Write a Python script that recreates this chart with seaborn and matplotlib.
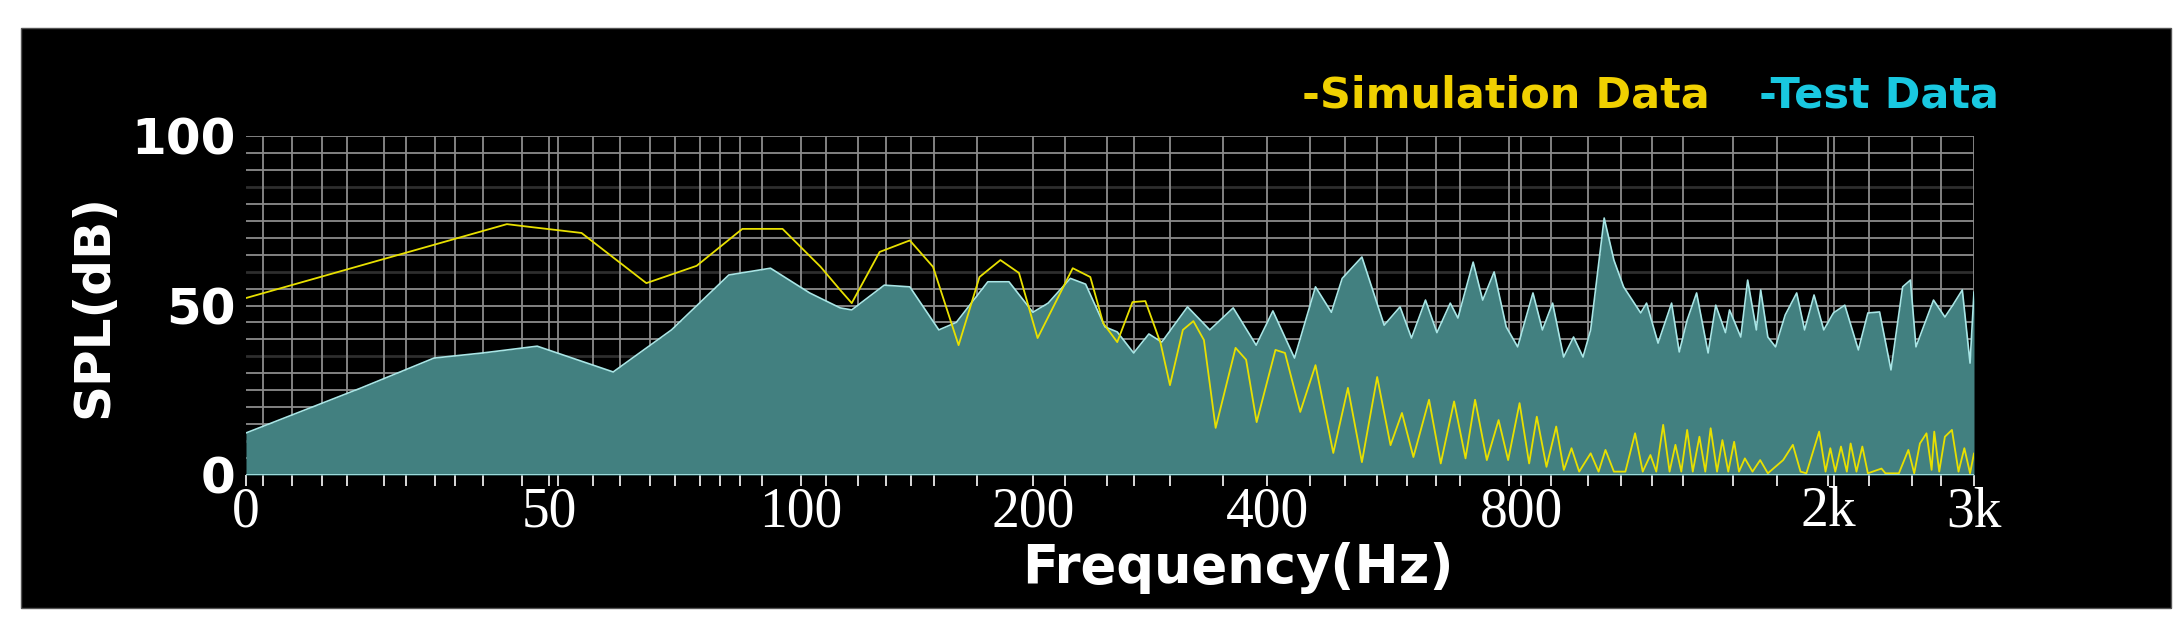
import numpy as np
import pandas as pd
import seaborn as sns
import matplotlib.pyplot as plt
from matplotlib.patches import Rectangle
from matplotlib import font_manager

# frequency axis: labelled ticks
tick_freqs = [0, 50, 100, 200, 400, 800, 2000, 3000]
tick_labels = ["0", "50", "100", "200", "400", "800", "2k", "3k"]
# relative pixel spacing of the labelled ticks on the original warped axis
tick_pos = [0, 303, 554, 786, 1020, 1274, 1580, 1726]

grid_freqs = [2.8, 7.6, 12.5, 16.7, 22.8, 26.4, 31.2, 34.5, 39, 45.5, 51.8, 58.6, 64, 70, 75, 79.9,
              84, 88, 92.4, 111, 124.6, 136.6, 147.4, 157.3, 175.9, 227, 263, 286, 317, 362,
              468, 523, 573, 620, 666, 704, 781, 914, 1059, 1188, 1310, 1431, 1627, 1800,
              2041, 2281, 2575, 2774]

# Test data (measured)
test_f = [0, 19, 31, 39, 48, 62.7, 74.3, 85.7, 94, 103.9, 117, 122, 136, 147, 159.5, 167, 180.6,
          189.7, 200, 213, 232, 245, 261.5, 272, 286, 299, 310, 332, 351, 371, 390.6, 409, 443,
          476, 501, 518, 549, 584, 609, 627, 649, 667, 688, 700, 724, 739, 757, 776, 794, 845,
          882, 922, 965, 1004, 1041, 1071, 1124, 1162, 1200, 1267, 1290, 1335, 1388, 1418, 1449,
          1486, 1531, 1561, 1599, 1615, 1659, 1686, 1720, 1737, 1765, 1795, 1833, 1878, 1909,
          1946, 1984, 2038, 2116, 2209, 2274, 2354, 2432, 2512, 2565, 2603, 2723, 2801, 2855,
          2920, 2973, 3000]
test_db = [12.4, 25.7, 34.5, 36, 38, 30.4, 42.8, 59, 61, 53.7, 49.3, 48.7, 56, 55.5, 42.8, 45, 57,
           57, 48, 50.7, 58, 56.3, 43.7, 42.2, 36, 41.6, 39.2, 49.6, 42.8, 49.3, 38.3, 48.4, 34.5,
           55.5, 48, 58, 64.3, 44.2, 49.6, 40.4, 51.6, 42, 50.7, 46.3, 62.8, 51.6, 59.9, 43.7,
           37.8, 53.7, 42.8, 50.7, 34.8, 40.7, 34.8, 42.8, 75.8, 63.4, 55.5, 47.8, 50.7, 38.9,
           50.7, 36.3, 45.7, 53.7, 36, 50.1, 42, 48.7, 40.7, 57.5, 42.8, 54.6, 40.7, 37.8, 47.2,
           53.7, 42.8, 53.1, 42.8, 47.8, 50.1, 36.9, 47.8, 48.1, 31, 55.5, 57.5, 37.8, 51.6, 46.6,
           50.1, 54.6, 33, 54]

# Simulation data
sim_f = [0, 43, 46.7, 56.4, 69.3, 79.3, 88.4, 96.4, 108.6, 117, 122, 134, 147, 157, 168, 177, 186,
         194, 204, 234, 249, 260, 272, 285, 296, 309, 317, 328, 337, 346, 356, 373, 382, 391, 413,
         428, 452, 476, 504, 527, 549, 573, 594, 612, 630, 654.6, 673, 694, 712, 727, 745.5, 764,
         779, 797, 830, 860, 898, 936, 966, 996, 1026, 1071, 1102, 1129, 1162, 1207, 1245, 1275,
         1305, 1328, 1355, 1380, 1403, 1426, 1449, 1471, 1497, 1520, 1541, 1566, 1587, 1610, 1633,
         1652, 1675, 1705, 1735, 1765, 1825, 1863, 1893, 1916, 1966, 1991, 2017, 2051, 2090, 2130,
         2156, 2196, 2236, 2274, 2367, 2394, 2486, 2551, 2591, 2630, 2675, 2710, 2728, 2762, 2801,
         2849, 2894, 2934, 2973, 3000]
sim_db = [52.2, 74, 73.2, 71.4, 56.6, 61.7, 72.6, 72.6, 61.4, 54.6, 50.7, 65.8, 69.2, 61.4, 38.3,
          58.4, 63.4, 59.6, 40.4, 61, 58.4, 44.8, 39.2, 51, 51.3, 38.9, 26.5, 42.8, 45.4, 39.8,
          13.9, 37.5, 34, 15.6, 36.9, 36, 18.6, 32.4, 6.5, 25.7, 3.8, 28.9, 8.8, 18.3, 5.3, 22.2,
          3.4, 21.7, 4.9, 22.2, 4.4, 16.2, 4.4, 21.2, 3.4, 17.2, 2.4, 14.3, 1.5, 7.9, 1.0, 6.4,
          1.0, 7.4, 1.0, 1.0, 12.3, 1.0, 5.9, 1.0, 14.8, 1.0, 8.9, 1.0, 13.3, 1.0, 11.3, 1.0,
          13.8, 1.0, 10.3, 1.0, 9.8, 1.0, 4.9, 1.0, 4.4, 0.5, 4.4, 8.9, 1.0, 0.5, 12.8, 1.0, 7.9,
          1.0, 8.4, 1.0, 9.3, 1.0, 8.4, 0.5, 1.9, 0.5, 0.5, 7.4, 0.5, 9.3, 12.3, 1.5, 12.8, 1.0,
          11.3, 13.3, 1.0, 7.9, 0.5, 6.4]

test_df = pd.DataFrame({"freq": test_f, "spl": test_db})
sim_df = pd.DataFrame({"freq": sim_f, "spl": sim_db})

sns.set_style("dark")

# pick a narrow font for the legend texts if one is around
names = {f.name for f in font_manager.fontManager.ttflist}
narrow = [n for n in ["Liberation Sans Narrow", "DejaVu Sans Condensed"] if n in names]
legend_family = narrow + ["DejaVu Sans"]
legend_size = 36 if narrow else 31

fig = plt.figure(figsize=(21.74, 6.37), dpi=100, facecolor="white")
fig.add_artist(Rectangle((21 / 2174, 1 - 608 / 637), 2150 / 2174, 580 / 637, zorder=-5,
                         transform=fig.transFigure, facecolor="black", edgecolor="#555555", lw=1))
ax = fig.add_axes([246 / 2174, 1 - 475 / 637, 1728 / 2174, 339 / 637])
ax.set_facecolor("black")


def fwd(f):
    return np.interp(f, tick_freqs, tick_pos)


def inv(p):
    return np.interp(p, tick_pos, tick_freqs)


ax.set_xscale("function", functions=(fwd, inv))
ax.set_xlim(0, 3000)
ax.set_ylim(0, 100)

# grid
for v in range(5, 101, 5):
    dim = v in (10, 35, 60, 85)
    ax.axhline(v, color="#2e2e2e" if dim else "#8c8c8c", lw=2 if dim else 1.3, zorder=1)
for f in grid_freqs + tick_freqs[1:]:
    ax.axvline(f, color="#8c8c8c", lw=1.3, zorder=1)

ax.fill_between(test_df["freq"], 0, test_df["spl"], color="#428080", lw=0, zorder=2)
sns.lineplot(data=test_df, x="freq", y="spl", ax=ax, color="#a8e6e6", lw=1.2, zorder=3)
sns.lineplot(data=sim_df, x="freq", y="spl", ax=ax, color="#e8e000", lw=1.3, zorder=4)
ax.axhline(0, color="#a8e6e6", lw=2, zorder=5)

for s in ax.spines.values():
    s.set_visible(False)

ax.set_xticks(tick_freqs)
ax.set_xticklabels(tick_labels, family="Liberation Serif", fontsize=40, color="white")
ax.set_xticks(grid_freqs, minor=True)
ax.tick_params(axis="x", which="both", direction="out", colors="white", bottom=True,
               length=8, width=1.2, pad=0)
ax.set_yticks([0, 50, 100])
ax.set_yticklabels(["0", "50", "100"], fontsize=36, fontweight="heavy", color="white")
ax.tick_params(axis="y", left=False, pad=4)
ax.set_xlabel("")
ax.set_ylabel("SPL(dB)", fontsize=36, fontweight="bold", color="white", labelpad=10)
ax.grid(False)

fig.text(1238 / 2174, 1 - 568 / 637, "Frequency(Hz)", fontsize=38, fontweight="bold",
         color="white", ha="center", va="center")
fig.text(1710 / 2174, 1 - 96 / 637, "-Simulation Data", fontsize=legend_size,
         family=legend_family, fontweight="bold",
         color="#f0d000", ha="right", va="center")
fig.text(1999 / 2174, 1 - 96 / 637, "-Test Data", fontsize=legend_size,
         family=legend_family, fontweight="bold",
         color="#19c8e0", ha="right", va="center")

fig.savefig("out.png", dpi=100, facecolor="white")
